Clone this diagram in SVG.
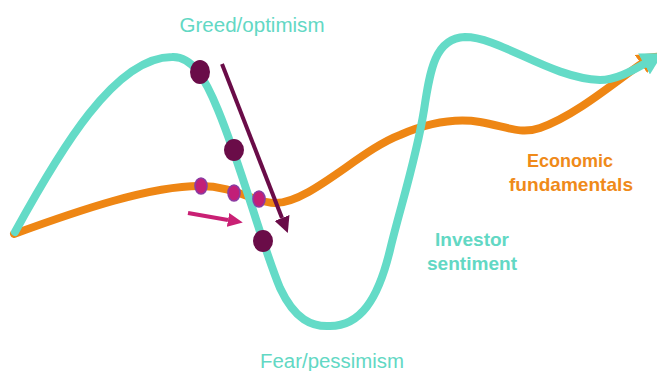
<svg xmlns="http://www.w3.org/2000/svg" width="657" height="371" viewBox="0 0 657 371">
  <defs>
    <style>
      .label { font-family: "Liberation Sans", "DejaVu Sans", sans-serif; text-anchor: middle; }
      .teal-txt { fill: #62d8c4; }
      .orange-txt { fill: #ef8a1a; }
      .curve { fill: none; stroke-linecap: round; stroke-linejoin: round; stroke-width: 8; }
      .teal { stroke: #64dbc7; }
      .orange { stroke: #ee8614; }
      .big-dot { fill: #6a0c48; }
      .small-dot { fill: #c21f78; stroke: #8b3ba2; stroke-width: 1.6; }
    </style>
    <marker id="head-teal" markerUnits="userSpaceOnUse" viewBox="0 -12 22 24" refX="0" refY="0" markerWidth="22" markerHeight="24" orient="auto">
      <path d="M0,-12 L22,0 L0,12 z" fill="#64dbc7"/>
    </marker>
    <marker id="head-orange" markerUnits="userSpaceOnUse" viewBox="0 -11 20 22" refX="0" refY="0" markerWidth="20" markerHeight="22" orient="auto">
      <path d="M0,-11 L20,0 L0,11 z" fill="#ee8614"/>
    </marker>
    <marker id="head-plum" markerUnits="userSpaceOnUse" viewBox="0 -8 16 16" refX="0" refY="0" markerWidth="16" markerHeight="16" orient="auto">
      <path d="M0,-8 L16,0 L0,8 z" fill="#6a0c48"/>
    </marker>
    <marker id="head-pink" markerUnits="userSpaceOnUse" viewBox="0 -7 15 14" refX="0" refY="0" markerWidth="15" markerHeight="14" orient="auto">
      <path d="M0,-7 L15,0 L0,7 z" fill="#c92074"/>
    </marker>
  </defs>

  <rect width="657" height="371" fill="#ffffff"/>

  <g id="connectors">
    <!-- economic fundamentals -->
    <path id="fundamentals-curve" class="curve orange" marker-end="url(#head-orange)"
          d="M14,234 C 80,210 150,186 200,186 C 235,186 255,203 275,203 C 310,203 360,150 400,135 C 430,122 455,118 480,122 C 505,126 520,135 540,128 C 575,116 615,82 641,64"/>
    <!-- investor sentiment -->
    <path id="sentiment-curve" class="curve teal" marker-end="url(#head-teal)"
          d="M15,232 C 60,150 115,57 172,57 C 192,56 205,78 218,110 C 242,168 262,245 280,288 C 295,320 312,327 330,326 C 360,326 378,300 390,250 C 400,208 416,160 424,110 C 430,70 435,38 465,37 C 500,37 550,78 600,80 C 615,80 630,72 644,64"/>
    <!-- downward move -->
    <line id="drop-arrow" x1="222" y1="64" x2="282" y2="218" stroke="#6a0c48" stroke-width="4" marker-end="url(#head-plum)"/>
    <!-- nudge arrow -->
    <line id="nudge-arrow" x1="188" y1="213" x2="228" y2="220" stroke="#c92074" stroke-width="4" marker-end="url(#head-pink)"/>
  </g>

  <g id="sentiment-dots">
    <ellipse class="big-dot" cx="200" cy="72" rx="10" ry="12"/>
    <ellipse class="big-dot" cx="234" cy="150" rx="10" ry="11"/>
    <ellipse class="big-dot" cx="263" cy="241" rx="10" ry="11"/>
  </g>

  <g id="fundamentals-dots">
    <ellipse class="small-dot" cx="201" cy="186" rx="6" ry="8"/>
    <ellipse class="small-dot" cx="234" cy="193" rx="6" ry="8"/>
    <ellipse class="small-dot" cx="259" cy="199" rx="6" ry="8"/>
  </g>

  <g id="label-greed">
    <text class="label teal-txt" x="252" y="32" font-size="20" textLength="145" lengthAdjust="spacingAndGlyphs">Greed/optimism</text>
  </g>
  <g id="label-fear">
    <text class="label teal-txt" x="332" y="368" font-size="20" textLength="144" lengthAdjust="spacingAndGlyphs">Fear/pessimism</text>
  </g>
  <g id="label-fundamentals">
    <text class="label orange-txt" x="570" y="167" font-size="19" font-weight="bold" textLength="86" lengthAdjust="spacingAndGlyphs">Economic</text>
    <text class="label orange-txt" x="571" y="191" font-size="19" font-weight="bold" textLength="124" lengthAdjust="spacingAndGlyphs">fundamentals</text>
  </g>
  <g id="label-sentiment">
    <text class="label teal-txt" x="472" y="246" font-size="19" font-weight="bold" textLength="74" lengthAdjust="spacingAndGlyphs">Investor</text>
    <text class="label teal-txt" x="472" y="270" font-size="19" font-weight="bold" textLength="90" lengthAdjust="spacingAndGlyphs">sentiment</text>
  </g>
</svg>
